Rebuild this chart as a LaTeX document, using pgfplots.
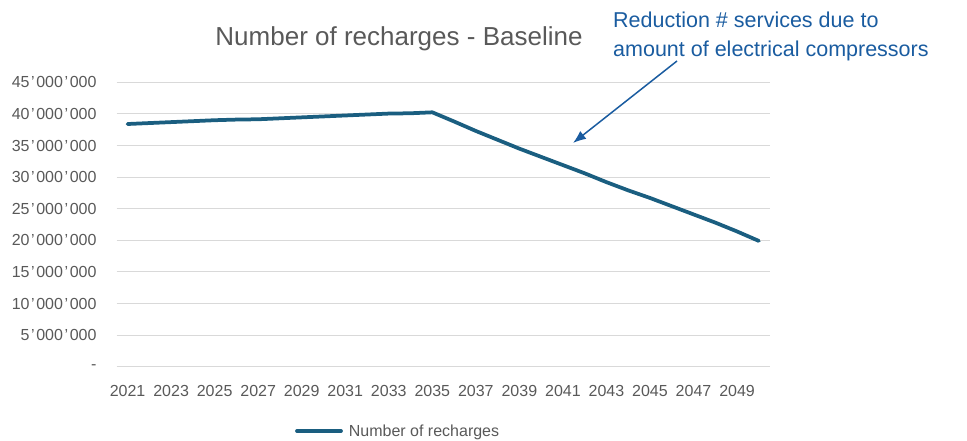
\documentclass[border=0pt]{standalone}
\usepackage{fontspec}
\setmainfont{Liberation Sans}
\usepackage{pgfplots}
\pgfplotsset{compat=1.18}
\usetikzlibrary{arrows.meta}
\definecolor{linec}{HTML}{1A5E80}
\definecolor{gridc}{HTML}{D9D9D9}
\definecolor{txtc}{HTML}{595959}
\definecolor{annc}{HTML}{1A5CA0}
\newcommand\ap{\kern1.6bp’\kern1.6bp}
\begin{document}
\begin{tikzpicture}
\useasboundingbox (0,0) rectangle (967bp,441bp);
\begin{axis}[
  at={(116.7bp,74.3bp)}, anchor=south west,
  scale only axis, width=653bp, height=284.4bp,
  xmin=2020.5, xmax=2050.5, ymin=0, ymax=45000000,
  axis line style={draw=none},
  major tick length=0pt,
  ymajorgrids, grid style={gridc, line width=1bp},
  scaled y ticks=false,
  xtick={2021,2023,2025,2027,2029,2031,2033,2035,2037,2039,2041,2043,2045,2047,2049},
  xticklabels={2021,2023,2025,2027,2029,2031,2033,2035,2037,2039,2041,2043,2045,2047,2049},
  ytick={0,5000000,10000000,15000000,20000000,25000000,30000000,35000000,40000000,45000000},
  yticklabels={{-\hspace{7bp}},5\ap000\ap000,10\ap000\ap000,15\ap000\ap000,20\ap000\ap000,25\ap000\ap000,30\ap000\ap000,35\ap000\ap000,40\ap000\ap000,45\ap000\ap000},
  ticklabel style={font=\fontsize{16bp}{19bp}\selectfont, text=txtc, inner sep=0pt},
  xticklabel style={anchor=center, yshift=-24bp},
  yticklabel style={anchor=east, xshift=-20bp},
  legend style={at={(0.431,-0.226)}, anchor=center, draw=none, fill=none,
    font=\fontsize{16bp}{19bp}\selectfont, text=txtc},
  legend image code/.code={\draw[#1, line width=3.75bp] (0bp,0bp) -- (44bp,0bp);},
  clip=false,
]
\addplot[linec, line width=3.75bp, line join=round, line cap=round] coordinates {
(2021,38400000) (2022,38550000) (2023,38700000) (2024,38850000) (2025,39000000)
(2026,39100000) (2027,39150000) (2028,39300000) (2029,39450000) (2030,39600000)
(2031,39750000) (2032,39900000) (2033,40050000) (2034,40100000) (2035,40250000)
(2036,38800000) (2037,37300000) (2038,35900000) (2039,34500000) (2040,33200000)
(2041,31900000) (2042,30600000) (2043,29200000) (2044,27900000) (2045,26700000)
(2046,25400000) (2047,24100000) (2048,22800000) (2049,21400000) (2050,19900000)
};
\addlegendentry{\hspace{4bp}Number of recharges}
\end{axis}
\node[anchor=center, text=txtc, font=\fontsize{26bp}{30bp}\selectfont, inner sep=0pt] at (399bp,402bp) {Number of recharges - Baseline};
\node[anchor=base west, text=annc, font=\fontsize{21.5bp}{26bp}\selectfont, inner sep=0pt] at (613bp,413bp) {Reduction \# services due to};
\node[anchor=base west, text=annc, font=\fontsize{21.5bp}{26bp}\selectfont, inner sep=0pt] at (613bp,384bp) {amount of electrical compressors};
\draw[annc, line width=1.5bp, -{Latex[length=13bp,width=10bp]}] (677bp,380bp) -- (573bp,298bp);
\end{tikzpicture}
\end{document}
